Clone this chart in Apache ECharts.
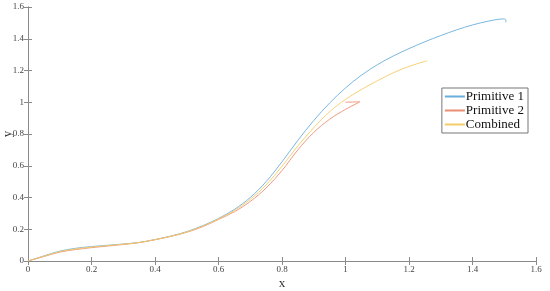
<!DOCTYPE html>
<html>
<head>
<meta charset="utf-8">
<script src="https://cdn.jsdelivr.net/npm/echarts@6/dist/echarts.min.js"></script>
<style>
  html, body { margin: 0; padding: 0; background: #fff; }
  #chart { width: 550px; height: 291px; }
</style>
</head>
<body>
<div id="chart"></div>
<script>
// x ticks / y ticks
const xTicks = [0, 0.2, 0.4, 0.6, 0.8, 1, 1.2, 1.4, 1.6]
const yTicks = [0, 0.2, 0.4, 0.6, 0.8, 1, 1.2, 1.4, 1.6]

// Primitive 1 (x, y)
const p1X = [0, 0.05, 0.1, 0.15, 0.2, 0.25, 0.3, 0.35, 0.4, 0.45, 0.5, 0.55, 0.6, 0.65, 0.7, 0.75, 0.8, 0.85, 0.9, 0.95, 1.0, 1.05, 1.1, 1.15, 1.2, 1.25, 1.3, 1.35, 1.4, 1.45, 1.48, 1.5, 1.505, 1.505]
const p1Y = [0, 0.032, 0.062, 0.08, 0.091, 0.099, 0.107, 0.117, 0.135, 0.157, 0.185, 0.222, 0.268, 0.325, 0.4, 0.5, 0.625, 0.76, 0.885, 0.995, 1.09, 1.17, 1.236, 1.291, 1.338, 1.381, 1.42, 1.456, 1.487, 1.511, 1.522, 1.525, 1.519, 1.504]

// Primitive 2
const p2X = [0, 0.05, 0.1, 0.15, 0.2, 0.25, 0.3, 0.35, 0.4, 0.45, 0.5, 0.55, 0.6, 0.65, 0.7, 0.75, 0.8, 0.85, 0.9, 0.95, 1.0, 1.04, 1.045, 1.0]
const p2Y = [0, 0.028, 0.056, 0.072, 0.084, 0.094, 0.104, 0.116, 0.134, 0.155, 0.181, 0.216, 0.262, 0.31, 0.375, 0.46, 0.57, 0.7, 0.81, 0.893, 0.955, 0.997, 1.003, 1.0]

// Combined
const cX = [0, 0.05, 0.1, 0.15, 0.2, 0.25, 0.3, 0.35, 0.4, 0.45, 0.5, 0.55, 0.6, 0.65, 0.7, 0.75, 0.8, 0.85, 0.9, 0.95, 1.0, 1.05, 1.1, 1.15, 1.2, 1.25, 1.258]
const cY = [0, 0.03, 0.059, 0.076, 0.088, 0.097, 0.106, 0.116, 0.135, 0.156, 0.183, 0.219, 0.265, 0.318, 0.388, 0.48, 0.597, 0.725, 0.84, 0.94, 1.018, 1.08, 1.135, 1.185, 1.226, 1.257, 1.262]

const zip = (xs, ys) => xs.map((x, i) => [x, ys[i]])

const font = 'Liberation Serif'
const axisColor = '#8a8a8a'

function baseX (pos, showLabel) {
  return {
    type: 'value',
    position: pos,
    min: xTicks[0],
    max: xTicks[xTicks.length - 1],
    interval: 0.2,
    axisLine: { show: true, lineStyle: { color: axisColor, width: 1 } },
    axisTick: { show: true, inside: true, length: 4, lineStyle: { color: axisColor } },
    splitLine: { show: false },
    axisLabel: { show: showLabel, color: '#444', fontFamily: font, fontSize: 9, margin: 4 }
  }
}
function baseY (pos, showLabel) {
  return {
    type: 'value',
    position: pos,
    min: yTicks[0],
    max: yTicks[yTicks.length - 1],
    interval: 0.2,
    axisLine: { show: true, lineStyle: { color: axisColor, width: 1 } },
    axisTick: { show: true, inside: true, length: 4, lineStyle: { color: axisColor } },
    splitLine: { show: false },
    axisLabel: { show: showLabel, color: '#444', fontFamily: font, fontSize: 9, margin: 4 }
  }
}

const xMain = Object.assign(baseX('bottom', true), {
  name: 'x', nameLocation: 'middle', nameGap: 16, nameMoveOverlap: false,
  nameTextStyle: { color: '#333', fontFamily: font, fontSize: 13 }
})
const yMain = Object.assign(baseY('left', true), {
  name: 'y', nameLocation: 'middle', nameGap: 14, nameMoveOverlap: false,
  nameTextStyle: { color: '#333', fontFamily: font, fontSize: 13 }
})

function line (name, data, color) {
  return {
    name: name,
    type: 'line',
    data: data,
    symbol: 'none',
    smooth: 0.35,
    xAxisIndex: 0,
    yAxisIndex: 0,
    lineStyle: { color: color, width: 0.9 },
    itemStyle: { color: color },
    animation: false
  }
}

const option = {
  animation: false,
  grid: { left: 28, right: 14, top: 7, bottom: 30, containLabel: false, outerBoundsMode: 'none' },
  legend: {
    orient: 'vertical',
    right: 22,
    top: 88,
    itemWidth: 20,
    itemHeight: 2,
    itemGap: 1,
    padding: [2, 4, 2, 2],
    borderColor: '#777',
    borderWidth: 1,
    backgroundColor: '#fff',
    textStyle: { color: '#111', fontFamily: font, fontSize: 13, padding: [0, 0, 0, -4] },
    data: ['Primitive 1', 'Primitive 2', 'Combined']
  },
  xAxis: [xMain, baseX('top', false)],
  yAxis: [yMain, baseY('right', false)],
  series: [
    line('Primitive 1', zip(p1X, p1Y), '#6aafdb'),
    line('Primitive 2', zip(p2X, p2Y), '#eb8f74'),
    line('Combined', zip(cX, cY), '#f4cc68')
  ]
}

const myChart = echarts.init(document.getElementById('chart'))
myChart.setOption(option)
</script>
</body>
</html>
